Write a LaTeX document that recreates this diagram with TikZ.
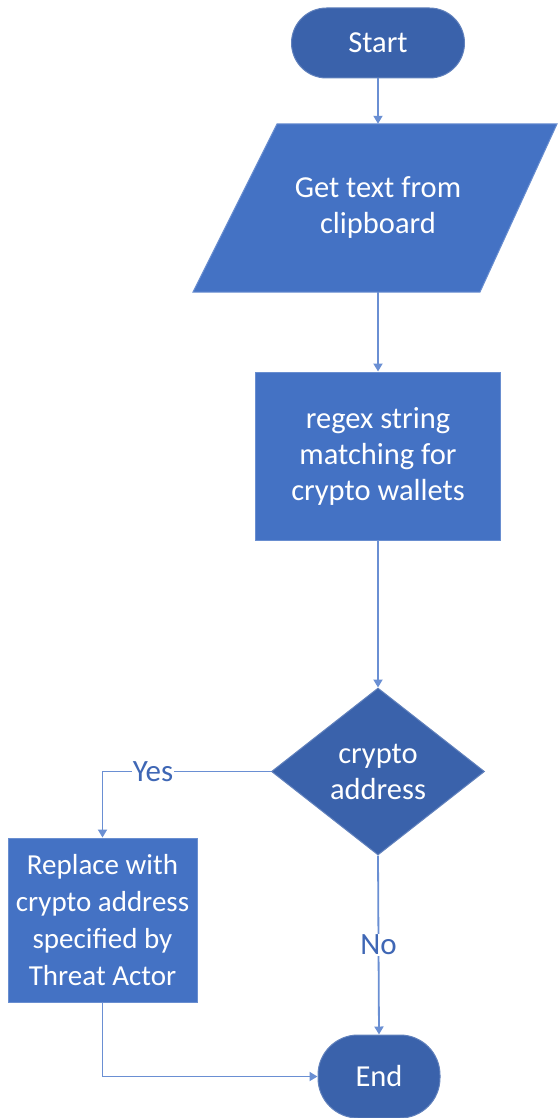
\documentclass[tikz,border=0pt]{standalone}
\usepackage{fontspec}
\setmainfont{Carlito}
\usetikzlibrary{shapes.geometric,arrows.meta}
\definecolor{darkfill}{HTML}{3A62AB}
\definecolor{lightfill}{HTML}{4472C4}
\definecolor{edgeblue}{HTML}{6A8FD3}
\definecolor{labelblue}{HTML}{3F67B5}
\tikzset{
  base/.style={text=white, font=\fontsize{30.5}{36}\selectfont, align=center, inner sep=0pt},
  term/.style={base, fill=darkfill, draw=darkfill!80!white, line width=1pt},
  procbox/.style={base, fill=lightfill, draw=lightfill!80!white, line width=1pt},
  decbox/.style={base, diamond, fill=darkfill, draw=darkfill!80!white, line width=1pt},
  conn/.style={draw=edgeblue, line width=1.8pt, -{Triangle[width=9pt,length=8pt]}},
  lbl/.style={fill=white, text=labelblue, font=\fontsize{31}{34}\selectfont, inner sep=1pt}
}
\begin{document}
\begin{tikzpicture}[x=1pt,y=-1pt]
\useasboundingbox (0,0) rectangle (557,1118);
\node[term, minimum width=173pt, minimum height=70pt, rounded corners=35pt] (start) at (378,43) {Start};
\fill[lightfill] (193,292) -- (480,292) -- (557,124) -- (277,124) -- cycle;
\draw[lightfill!80!white, line width=1pt] (193,292) -- (480,292) -- (557,124) -- (277,124) -- cycle;
\node[base, minimum width=200pt, minimum height=168pt] (get) at (378,208) {Get text from\\clipboard};
\node[procbox, minimum width=245pt, minimum height=168pt] (regex) at (378,456) {regex string\\matching for\\crypto wallets};
\node[decbox, minimum width=213pt, minimum height=167pt] (dec) at (378,771.5) {crypto\\address};
\node[procbox, font=\fontsize{29}{37}\selectfont, minimum width=189pt, minimum height=164pt] (repl) at (102.5,920) {Replace with\\crypto address\\specified by\\Threat Actor};
\node[term, minimum width=122pt, minimum height=83pt, rounded corners=40pt] (end) at (379,1076.5) {End};
\draw[conn] (start.south) -- (start.south |- get.north);
\draw[conn] (get.south) -- (regex.north);
\draw[conn] (regex.south) -- (dec.north);
\draw[conn] (dec.west) -| node[lbl, pos=0.35] {Yes} (repl.north);
\draw[conn] (dec.south) -- node[lbl, midway] {No} (end.north);
\draw[conn] (repl.south) |- (end.west);
\end{tikzpicture}
\end{document}
